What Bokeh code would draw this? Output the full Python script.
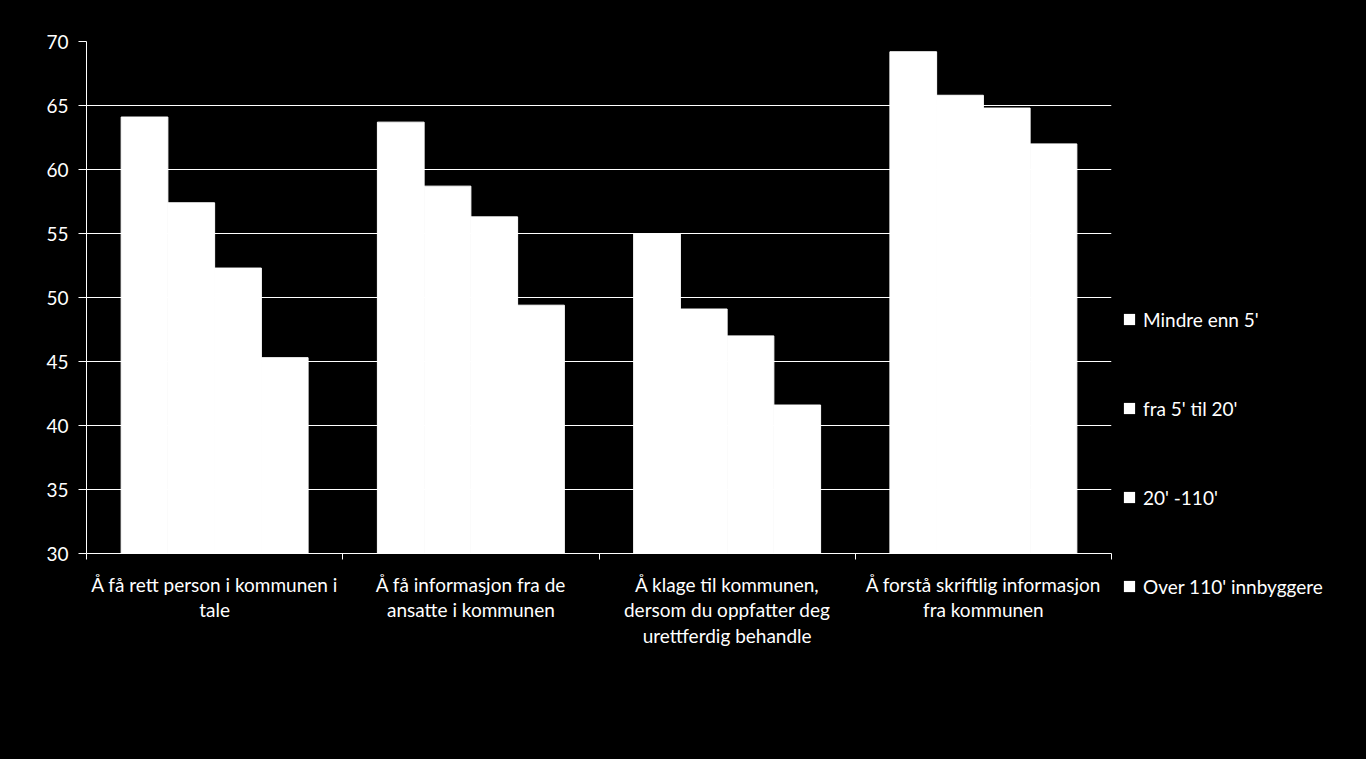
from bokeh.plotting import figure
from bokeh.models import Range1d, FixedTicker, Legend, LegendItem
from bokeh.embed import file_html
from bokeh.resources import INLINE

# ---- data ----
categories = [
    "Å få rett person i kommunen i\ntale",
    "Å få informasjon fra de\nansatte i kommunen",
    "Å klage til kommunen,\ndersom du oppfatter deg\nurettferdig behandle",
    "Å forstå skriftlig informasjon\nfra kommunen",
]
series_names = ["Mindre enn 5'", "fra 5' til 20'", "20' -110'", "Over 110' innbyggere"]
mindre_enn_5 = [64.1, 63.7, 55.0, 69.2]
fra_5_til_20 = [57.4, 58.7, 49.1, 65.8]
fra_20_til_110 = [52.3, 56.3, 47.0, 64.8]
over_110 = [45.3, 49.4, 41.6, 62.0]
y_ticks = [30, 35, 40, 45, 50, 55, 60, 65, 70]

series_values = [mindre_enn_5, fra_5_til_20, fra_20_til_110, over_110]

FONT = "Lato"
BAR_W = 0.1824

p = figure(
    title=None,
    frame_width=1025, frame_height=512,
    min_border_left=86, min_border_right=247, min_border_top=41, min_border_bottom=198,
    x_range=Range1d(0, len(categories)), y_range=Range1d(y_ticks[0], y_ticks[-1]),
    output_backend="svg", toolbar_location=None,
    background_fill_color="black", border_fill_color="black",
    outline_line_color=None,
)

centers = [i + 0.5 for i in range(len(categories))]
n = len(series_values)
legend_items = []
for j, (name, vals) in enumerate(zip(series_names, series_values)):
    xs = [c + (j - (n - 1) / 2) * BAR_W for c in centers]
    p.vbar(x=xs, top=vals, bottom=y_ticks[0], width=BAR_W,
           fill_color="white", line_color="white", line_width=1)
    # zero-size markers at the bar tops: used only as square legend swatches
    sw = p.scatter(x=xs, y=vals, marker="square", size=0,
                   fill_color="white", line_color=None)
    legend_items.append(LegendItem(label=name, renderers=[sw]))

# x axis: labels at category centers, tick marks at boundaries
xa = p.xaxis[0]
xa.ticker = FixedTicker(ticks=centers, minor_ticks=list(range(len(categories) + 1)))
xa.major_label_overrides = {c: lab for c, lab in zip(centers, categories)}
xa.major_tick_out = 0
xa.major_tick_in = 0
xa.minor_tick_out = 6
xa.minor_tick_in = 0
xa.minor_tick_line_color = "white"
xa.axis_line_color = "white"
xa.major_label_text_color = "white"
xa.major_label_text_font = FONT
xa.major_label_text_font_size = "19px"
xa.major_label_text_line_height = 1.13
xa.major_label_standoff = 13

ya = p.yaxis[0]
ya.ticker = FixedTicker(ticks=y_ticks)
ya.major_tick_out = 8
ya.major_tick_in = 0
ya.minor_tick_out = 0
ya.minor_tick_in = 0
ya.major_tick_line_color = "white"
ya.axis_line_color = "white"
ya.major_label_text_color = "white"
ya.major_label_text_font = FONT
ya.major_label_text_font_size = "19px"
ya.major_label_standoff = 10

p.xgrid.visible = False
p.ygrid.ticker = FixedTicker(ticks=y_ticks)
p.ygrid.grid_line_color = "white"
p.ygrid.grid_line_width = 1

legend = Legend(
    items=legend_items, location=(4, -47), orientation="vertical",
    glyph_width=28, glyph_height=28, label_height=28, spacing=61,
    padding=0, margin=0, label_standoff=-4,
    background_fill_alpha=0, border_line_color=None,
    label_text_color="white", label_text_font=FONT, label_text_font_size="19px",
)
p.add_layout(legend, "right")

html = file_html(p, INLINE)
html = html.replace("</head>", "<style>html,body{background:#000;}</style></head>", 1)
open("out.html", "w").write(html)
